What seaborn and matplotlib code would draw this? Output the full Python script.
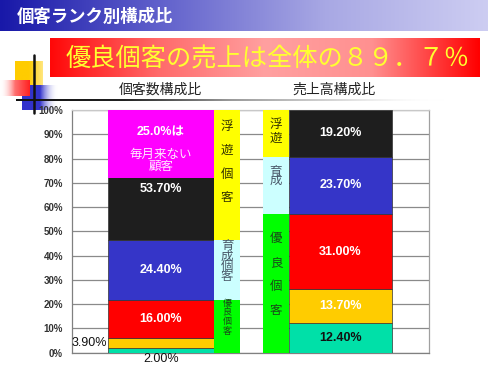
import numpy as np
import matplotlib
matplotlib.use("Agg")
import matplotlib.pyplot as plt
import matplotlib.transforms as mtrans
from matplotlib.colors import LinearSegmentedColormap, to_rgba
import seaborn as sns

sns.set_theme(style="white")
plt.rcParams['font.family'] = ['Noto Sans CJK JP', 'DejaVu Sans']

# --- data (bottom segment first) ---
customer_share = [2.0, 3.9, 16.0, 24.4, 53.7]
sales_share = [12.4, 13.7, 31.0, 23.7, 19.2]
seg_colors = ["#00E0A8", "#FFCC00", "#FF0000", "#3535C8", "#1E1E1E"]
seg_text_colors = ["#111111", "white", "white", "white", "white"]

# rank groups: 優良 = first three segments, 育成 = 4th, 浮遊 = 5th
group_sizes = [3, 1, 1]
group_colors = ["#00FF00", "#CCFFFF", "#FFFF00"]
group_text_colors = ["#1a4a1a", "#4a5a6a", "#333300"]
cust_group_names = ["優良個客", "育成個客", "浮遊個客"]
sales_group_names = ["優良個客", "育成", "浮遊"]

non_monthly = 25.0      # 毎月来ない顧客
note_bottom = 72.0      # where the magenta note box starts

title = "個客ランク別構成比"
headline = "優良個客の売上は全体の８９．７％"
col_titles = ["個客数構成比", "売上高構成比"]
yticks = list(range(0, 101, 10))

W, H = 488, 374
fig = plt.figure(figsize=(W / 100, H / 100), dpi=100)

# --- decoration layer in pixel coords ---
deco = fig.add_axes([0, 0, 1, 1])
deco.axis("off")


def hgrad(x0, x1, y0, y1, stops, z=1):
    cmap = LinearSegmentedColormap.from_list("g", [to_rgba(c) for c in stops])
    grad = np.linspace(0, 1, 256)[None, :]
    deco.imshow(grad, cmap=cmap, extent=(x0, x1, y1, y0), aspect="auto",
                zorder=z, interpolation="bilinear")


hgrad(0, W, 0, 31, ["#1818A8", "#6262CC", "#A8A8E4", "#CDCDF2"])
hgrad(50, 480, 38, 77, ["#FF0808", "#FF6A6A", "#FFA0A0", "#FF9090", "#FF0000"])
hgrad(15, 43, 61, 88, ["#FFCC00", "#FFCC00", "#FFE680"], z=2)
hgrad(0, 30, 80, 96, [(1, 1, 1, 0), "#FF7070", "#FF2020"], z=3)
hgrad(22, 58, 85, 110, ["#3333CC", "#3333CC", (1, 1, 1, 0)], z=2)
hgrad(16, 445, 99.2, 100.8, ["#111111", "#222222", "#9a9a9a", "#d8d8d8", (1, 1, 1, 0)], z=4)
deco.plot([34, 34], [55, 113], color="#111111", lw=1.8, zorder=5)
deco.set_xlim(0, W)
deco.set_ylim(H, 0)

deco.text(17, 17, title, color="white", fontsize=12.5, fontweight="bold",
          ha="left", va="center", zorder=6)
deco.text(268, 59, headline, color="#FFFF30", fontsize=18.2, ha="center",
          va="center", zorder=6)
deco.text(160, 90, col_titles[0], color="#222222", fontsize=10, ha="center", va="center")
deco.text(334, 90, col_titles[1], color="#222222", fontsize=10, ha="center", va="center")

# --- chart ---
ax = fig.add_axes([72 / W, 1 - 352.7 / H, 357 / W, 242.7 / H])
ax.set_xlim(0, 357)
ax.set_ylim(0, 100)

cust_x, cust_w = 89, 106
cstrip_x, strip_w = 155, 26
sstrip_x = 204
sales_x, sales_w = 268.5, 103


def px_off(dy, dx=0):
    return mtrans.offset_copy(ax.transData, fig=fig, x=dx, y=dy, units="dots")


def stack(x, w, values):
    bottoms = np.concatenate([[0], np.cumsum(values)[:-1]])
    ax.bar(x, values, width=w, bottom=bottoms, color=seg_colors,
           edgecolor="#333333", linewidth=0.5, zorder=3)
    return bottoms


def group_strip(x, values, names, offsets, sizes, spacings):
    vals = np.array(values)
    idx = np.cumsum([0] + group_sizes)
    sums = [vals[idx[i]:idx[i + 1]].sum() for i in range(len(group_sizes))]
    bottoms = np.concatenate([[0], np.cumsum(sums)[:-1]])
    ax.bar(x, sums, width=strip_w, bottom=bottoms, color=group_colors,
           linewidth=0, zorder=3)
    for b, s, name, c, off, fs, ls in zip(bottoms, sums, names, group_text_colors,
                                         offsets, sizes, spacings):
        ax.text(x, b + s, "\n".join(name), transform=px_off(-off), ha="center",
                va="top", color=c, fontsize=fs, linespacing=ls, zorder=5)


cust_bottoms = stack(cust_x, cust_w, customer_share)
sales_bottoms = stack(sales_x, sales_w, sales_share)
ax.bar(cust_x, 100 - note_bottom, width=cust_w, bottom=note_bottom,
       color="#FF00FF", linewidth=0, zorder=4)

# label settings listed bottom group first: 優良, 育成, 浮遊
group_strip(cstrip_x, customer_share, cust_group_names,
            [-1, -1, 10], [6.5, 9, 9], [1.05, 0.72, 2.08])
group_strip(sstrip_x, sales_share, sales_group_names,
            [18, 8, 8], [9, 9, 9], [2.08, 0.6, 1.1])

lab_font = ['Liberation Sans', 'Noto Sans CJK JP']

# customer share labels
for i, (v, b) in enumerate(zip(customer_share, cust_bottoms)):
    txt = f"{v:.2f}%"
    if i == 0:
        ax.text(cust_x, 0, txt, transform=px_off(-6), ha="center", va="center",
                fontsize=9, color="#111111", family=lab_font, clip_on=False)
    elif i == 1:
        ax.text(cust_x - cust_w / 2, b + v / 2, txt, transform=px_off(0, -1),
                ha="right", va="center", fontsize=9, color="#111111", family=lab_font)
    elif i == len(customer_share) - 1:
        ax.text(cust_x, note_bottom, txt, transform=px_off(-5), ha="center", va="top",
                fontsize=9, color=seg_text_colors[i], fontweight="bold", family=lab_font, zorder=6)
    else:
        ax.text(cust_x, b + v / 2, txt, ha="center", va="center", fontsize=9,
                color=seg_text_colors[i], fontweight="bold", family=lab_font, zorder=6)

ax.text(cust_x, 100, f"{non_monthly:.1f}%は", transform=px_off(-22), ha="center",
        va="center", fontsize=9, color="white", fontweight="bold", family=lab_font, zorder=6)
ax.text(cust_x, 100, "毎月来ない\n顧客", transform=px_off(-50.5), ha="center",
        va="center", fontsize=9, color="#FFE8FF", linespacing=0.95, zorder=6)

# sales share labels
for i, (v, b) in enumerate(zip(sales_share, sales_bottoms)):
    ax.text(sales_x, b + v / 2, f"{v:.2f}%", ha="center", va="center", fontsize=9,
            color=seg_text_colors[i], fontweight="bold", family=lab_font, zorder=6)

ax.set_yticks(yticks)
ax.set_yticklabels([f"{t}%" for t in yticks])
ax.set_xticks([])
ax.yaxis.grid(True, color="#8a8a8a", lw=0.9)
ax.set_axisbelow(True)
ax.tick_params(axis="y", length=0, pad=6.5, labelsize=7, labelcolor="#333333")
for lbl in ax.get_yticklabels():
    lbl.set_fontweight("bold")
    lbl.set_family(lab_font)
for side, c in zip(["left", "bottom", "top", "right"],
                   ["#808080", "#808080", "#c8c8c8", "#a0a0a0"]):
    ax.spines[side].set_color(c)
    ax.spines[side].set_linewidth(0.9)

fig.savefig("out.png", dpi=100)
